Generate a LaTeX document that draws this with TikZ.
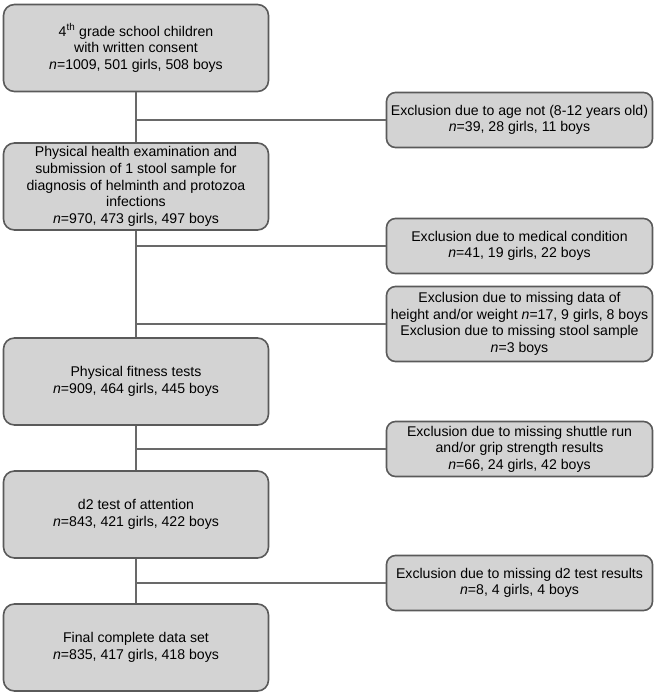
\documentclass[tikz,border=0pt]{standalone}
\usepackage{fontspec}
\setmainfont{Liberation Sans}
\usepackage{tikz}
\definecolor{boxfill}{RGB}{211,211,211}
\definecolor{boxline}{RGB}{90,90,90}
\definecolor{linkcol}{RGB}{105,105,105}

\begin{document}
\begin{tikzpicture}[
        x=1pt, y=-1pt,
        every node/.style={font=\fontsize{14.1}{16.6}\selectfont, align=center},
        mainbox/.style={draw=boxline, fill=boxfill, line width=1.6pt, rounded corners=11pt,
            minimum width=265pt, minimum height=87pt, inner sep=2pt},
        exclbox/.style={draw=boxline, fill=boxfill, line width=1.6pt, rounded corners=9pt,
            minimum width=266pt, inner sep=2pt},
        link/.style={draw=linkcol, line width=1.5pt}
    ]
        \useasboundingbox (0,0) rectangle (656,696);

        \node[mainbox] (b1) at (136,48) {4\textsuperscript{th} grade school children\\with written consent\\\textit{n}=1009, 501 girls, 508 boys};
        \node[mainbox] (b2) at (136,186.5) {Physical health examination and\\submission of 1 stool sample for\\diagnosis of helminth and protozoa\\infections\\\textit{n}=970, 473 girls, 497 boys};
        \node[mainbox] (b3) at (136,381.5) {Physical fitness tests\\\textit{n}=909, 464 girls, 445 boys};
        \node[mainbox] (b4) at (136,514.5) {d2 test of attention\\\textit{n}=843, 421 girls, 422 boys};
        \node[mainbox] (b5) at (136,647.5) {Final complete data set\\\textit{n}=835, 417 girls, 418 boys};

        \node[exclbox, minimum height=55pt] (r1) at (519.5,120) {Exclusion due to age not (8-12 years old)\\\textit{n}=39, 28 girls, 11 boys};
        \node[exclbox, minimum height=55pt] (r2) at (519.5,246) {Exclusion due to medical condition\\\textit{n}=41, 19 girls, 22 boys};
        \node[exclbox, minimum height=75pt] (r3) at (519.5,324) {Exclusion due to missing data of\\height and/or weight \textit{n}=17, 9 girls, 8 boys\\Exclusion due to missing stool sample\\\textit{n}=3 boys};
        \node[exclbox, minimum height=55pt] (r4) at (519.5,449) {Exclusion due to missing shuttle run\\and/or grip strength results\\\textit{n}=66, 24 girls, 42 boys};
        \node[exclbox, minimum height=55pt] (r5) at (519.5,583) {Exclusion due to missing d2 test results\\\textit{n}=8, 4 girls, 4 boys};

        % main flow
        \draw[link] (b1)--(b2);
        \draw[link] (b2)--(b3);
        \draw[link] (b3)--(b4);
        \draw[link] (b4)--(b5);

        % exclusions
        \draw[link] (r1.west)--(r1.west -| b1.south);
        \draw[link] (r2.west)--(r2.west -| b2.south);
        \draw[link] (r3.west)--(r3.west -| b2.south);
        \draw[link] (r4.west)--(r4.west -| b3.south);
        \draw[link] (r5.west)--(r5.west -| b4.south);
    \end{tikzpicture}
\end{document}
